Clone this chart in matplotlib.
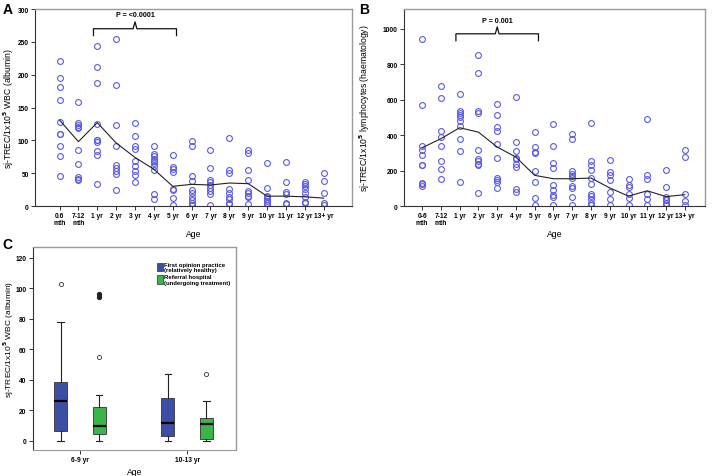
import matplotlib.pyplot as plt
from matplotlib.patches import Patch

plt.rcParams['font.family'] = ['Liberation Sans', 'DejaVu Sans']
plt.rcParams['font.weight'] = 'bold'

# Panel A / B categories
ages_a = ['0.6\nmth', '7-12\nmth', '1 yr', '2 yr', '3 yr', '4 yr', '5 yr', '6 yr',
          '7 yr', '8 yr', '9 yr', '10 yr', '11 yr', '12 yr', '13+ yr']
ages_b = ['0-6\nmth', '7-12\nmth', '1 yr', '2 yr', '3 yr', '4 yr', '5 yr', '6 yr',
          '7 yr', '8 yr', '9 yr', '10 yr', '11 yr', '12 yr', '13+ yr']

# Panel A: sj-TREC per WBC (albumin), individual dogs
a_points = [
    [221, 195, 181, 162, 128, 110, 109, 92, 76, 46],
    [158, 126, 124, 121, 119, 86, 64, 44, 41, 40],
    [243, 211, 187, 125, 101, 100, 98, 84, 77, 34],
    [255, 184, 123, 92, 63, 58, 54, 48, 25],
    [126, 107, 92, 87, 69, 61, 53, 47, 36],
    [91, 79, 76, 72, 68, 65, 61, 55, 18, 11],
    [77, 60, 56, 52, 26, 24, 12, 2],
    [99, 92, 46, 38, 24, 20, 13, 9, 5, 2],
    [85, 58, 39, 36, 32, 27, 23, 19, 1],
    [104, 55, 50, 26, 20, 14, 10, 5, 3],
    [86, 80, 55, 40, 23, 20, 16, 13, 3],
    [65, 28, 16, 13, 10, 7, 4, 1],
    [67, 37, 22, 19, 5, 3],
    [37, 34, 31, 26, 20, 14, 6, 4],
    [50, 38, 20, 5, 2],
]
a_mean = [131, 98, 127, 96, 74, 56, 30, 33, 32, 35, 34, 15, 15, 14, 12]

# Panel B: sj-TREC per lymphocytes (haematology)
b_points = [
    [940, 573, 340, 314, 286, 233, 229, 130, 122, 115],
    [675, 609, 421, 389, 338, 256, 207, 154],
    [630, 534, 525, 515, 500, 480, 449, 378, 310, 133],
    [855, 752, 534, 523, 314, 267, 252, 239, 233, 73],
    [577, 513, 447, 421, 350, 271, 160, 145, 135, 102],
    [618, 363, 308, 273, 265, 235, 218, 94, 79],
    [415, 333, 306, 299, 199, 135, 45, 8],
    [464, 338, 242, 216, 120, 88, 60, 51, 8],
    [408, 376, 195, 180, 167, 158, 113, 103, 51, 8],
    [468, 252, 229, 201, 160, 126, 70, 56, 38, 19, 8],
    [261, 192, 177, 148, 79, 38, 8],
    [154, 117, 107, 70, 47, 8],
    [489, 177, 150, 70, 41, 8],
    [205, 107, 51, 41, 32, 19, 8],
    [314, 274, 70, 30, 8],
]
b_mean = [329, 380, 442, 417, 333, 276, 173, 154, 154, 158, 102, 56, 86, 53, 64]

# Panel C: boxplot summaries
c_groups = ['6-9 yr', '10-13 yr']
fop_whislo = [0, 0]
fop_q1 = [6.5, 3.5]
fop_med = [26, 12]
fop_q3 = [38.5, 28]
fop_whishi = [78, 44]
fop_out = [[103], []]
fop_extreme = [[], []]
ref_whislo = [0, 0]
ref_q1 = [4.5, 1]
ref_med = [10, 11]
ref_q3 = [22.5, 15]
ref_whishi = [30, 26]
ref_out = [[55], [44]]
ref_extreme = [[94, 96], []]

PT_COL = '#5a5ae6'
BLUE = '#3c4fa6'
GREEN = '#3ab54a'
FRAME = '#9a9a9a'
TICK_FS = 4.8
LAB_FS = 6.2


def style_frame(ax):
    for s in ['top', 'right']:
        ax.spines[s].set_color(FRAME)
        ax.spines[s].set_linewidth(1.0)
    for s in ['left', 'bottom']:
        ax.spines[s].set_color('#333333')
        ax.spines[s].set_linewidth(0.8)
    ax.tick_params(length=3, width=0.7, labelsize=TICK_FS, pad=1.5, color='#333333')


def scatter_panel(ax, points, mean, labels, ylim, yticks, ylabel, ptext, pbase):
    for i, vals in enumerate(points):
        ax.plot([i] * len(vals), vals, 'o', mfc='none', mec=PT_COL, ms=4.2, mew=0.8)
    ax.plot(range(len(mean)), mean, color='#222222', lw=0.8)
    ax.set_xticks(range(len(labels)))
    ax.set_xticklabels(labels, fontsize=TICK_FS, linespacing=1.0)
    ax.set_yticks(yticks)
    ax.set_ylim(*ylim)
    ax.set_ylabel(ylabel, fontsize=LAB_FS)
    ax.set_xlabel('Age', fontsize=LAB_FS, labelpad=2)
    style_frame(ax)
    # bracket from 1 yr to 5 yr
    x0, x1 = 2 - 0.2, 6 + 0.2
    h = ylim[1] * 0.035
    xm = (x0 + x1) / 2
    ax.plot([x0, x0, xm - 0.1, xm, xm + 0.1, x1, x1],
            [pbase - h, pbase, pbase, pbase + h, pbase, pbase, pbase - h],
            color='#111111', lw=0.9)
    ax.text(xm, pbase + 2.0 * h, ptext, ha='center', va='center', fontsize=TICK_FS + 0.3)


fig = plt.figure(figsize=(7.14, 4.77), dpi=100)

axA = fig.add_axes([0.049, 0.566, 0.444, 0.413])
scatter_panel(axA, a_points, a_mean, ages_a, (0, 300), range(0, 301, 50),
              'sj-TREC/1x10$^5$ WBC (albumin)', 'P = <0.0001', 270)
axA.set_xlim(-1.3, 15.5)
axA.yaxis.set_label_coords(-0.06, 0.5)

axB = fig.add_axes([0.566, 0.566, 0.421, 0.413])
scatter_panel(axB, b_points, b_mean, ages_b, (0, 1112), range(0, 1001, 200),
              'sj-TREC/1x10$^5$ lymphocytes (haematology)', 'P = 0.001', 972)
axB.set_xlim(-0.96, 15.06)
axB.yaxis.set_label_coords(-0.106, 0.5)

# Panel C
axC = fig.add_axes([0.046, 0.0545, 0.285, 0.4255])
pos = [1, 2]
off = 0.18
fop_stats = []
ref_stats = []
for i in range(len(c_groups)):
    fop_stats.append(dict(whislo=fop_whislo[i], q1=fop_q1[i], med=fop_med[i],
                          q3=fop_q3[i], whishi=fop_whishi[i], fliers=fop_out[i]))
    ref_stats.append(dict(whislo=ref_whislo[i], q1=ref_q1[i], med=ref_med[i],
                          q3=ref_q3[i], whishi=ref_whishi[i], fliers=ref_out[i]))

for stats, shift, col, extreme in [(fop_stats, -off, BLUE, fop_extreme),
                                   (ref_stats, off, GREEN, ref_extreme)]:
    p = [x + shift for x in pos]
    axC.bxp(stats, positions=p, widths=0.12, patch_artist=True,
            boxprops=dict(facecolor=col, edgecolor='#444444', linewidth=0.7),
            medianprops=dict(color='black', linewidth=1.6),
            whiskerprops=dict(color='#222222', linewidth=0.8),
            capprops=dict(color='#222222', linewidth=0.8),
            capwidths=0.06,
            flierprops=dict(marker='o', mfc='none', mec='#333333', ms=3, mew=0.6),
            manage_ticks=False)
    for x, ex in zip(p, extreme):
        if ex:
            axC.plot([x] * len(ex), ex, 'o', color='#222222', ms=2.8)

axC.set_xlim(0.56, 2.46)
axC.set_ylim(-6, 127)
axC.set_yticks(range(0, 121, 20))
axC.set_xticks(pos)
axC.set_xticklabels(c_groups, fontsize=TICK_FS)
axC.set_ylabel('sj-TREC/1x10$^5$ WBC (albumin)', fontsize=6)
axC.yaxis.set_label_coords(-0.085, 0.55)
axC.set_xlabel('Age', fontsize=LAB_FS, labelpad=3)
style_frame(axC)
for s in ['top', 'right', 'bottom']:
    axC.spines[s].set_color(FRAME)

handles = [Patch(facecolor=BLUE, edgecolor='#444444', lw=0.6),
           Patch(facecolor=GREEN, edgecolor='#444444', lw=0.6)]
axC.legend(handles, ['First opinion practice\n(relatively healthy)',
                     'Referral hospital\n(undergoing treatment)'],
           loc='upper left', bbox_to_anchor=(0.6, 0.94), frameon=False,
           fontsize=4.3, handlelength=0.9, handleheight=1.8, handletextpad=0.3,
           labelspacing=0.3, borderaxespad=0)

fig.text(0.004, 0.993, 'A', fontsize=10, fontweight='bold', va='top')
fig.text(0.503, 0.993, 'B', fontsize=10, fontweight='bold', va='top')
fig.text(0.004, 0.5, 'C', fontsize=10, fontweight='bold', va='top')

fig.savefig('out.png', dpi=100)
